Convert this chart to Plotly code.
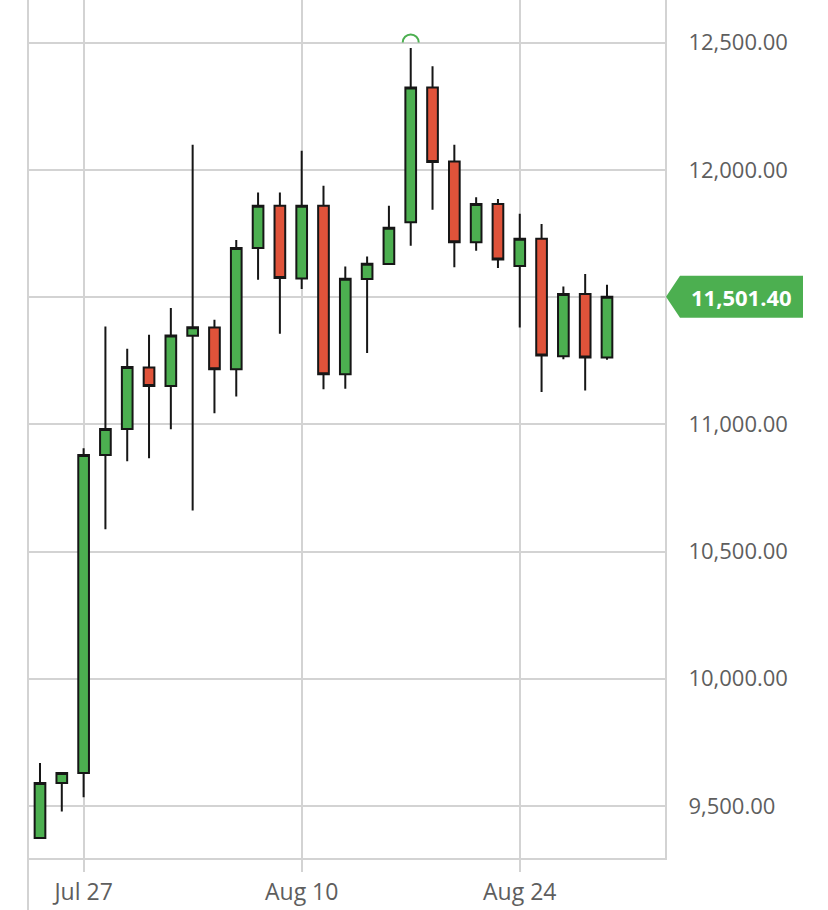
import plotly.graph_objects as go

dates = ["2020-07-23", "2020-07-24", "2020-07-27", "2020-07-28", "2020-07-29", "2020-07-30",
         "2020-07-31", "2020-08-03", "2020-08-04", "2020-08-05", "2020-08-06", "2020-08-07",
         "2020-08-10", "2020-08-11", "2020-08-12", "2020-08-13", "2020-08-14", "2020-08-17",
         "2020-08-18", "2020-08-19", "2020-08-20", "2020-08-21", "2020-08-24", "2020-08-25",
         "2020-08-26", "2020-08-27", "2020-08-28"]
opens = [9374, 9590, 9630, 10880, 10982, 11223, 11151, 11348, 11381, 11217, 11693, 11859,
         11573, 11859, 11197, 11571, 11630, 11794, 12324, 12033, 11716, 11866, 11622, 11729,
         11268, 11512, 11263]
highs = [9669, 9634, 10906, 11385, 11297, 11352, 11457, 12099, 11411, 11725, 11911, 11911,
         12075, 11938, 11620, 11660, 11859, 12479, 12407, 12099, 11893, 11886, 11828, 11787,
         11542, 11591, 11549]
lows = [9370, 9478, 9534, 10588, 10855, 10867, 10981, 10661, 11044, 11109, 11568, 11356,
        11532, 11138, 11140, 11280, 11628, 11702, 11843, 11617, 11682, 11614, 11381, 11127,
        11256, 11133, 11254]
closes = [9590, 9630, 10880, 10982, 11225, 11151, 11349, 11382, 11217, 11693, 11859, 11575,
          11859, 11197, 11572, 11631, 11773, 12324, 12031, 11716, 11866, 11648, 11729, 11271,
          11512, 11263, 11501.40]

x_tickvals = ["2020-07-27", "2020-08-10", "2020-08-24"]
x_ticktext = ["Jul 27", "Aug 10", "Aug 24"]
y_tickvals = [9500, 10000, 10500, 11000, 11500, 12000, 12500]

GREEN = "#4CAF50"
RED = "#E0533A"
GRID = "#D3D3D3"
LABEL = "#5E5E5E"

fig = go.Figure()
fig.add_trace(go.Candlestick(
    x=dates, open=opens, high=highs, low=lows, close=closes,
    increasing=dict(fillcolor=GREEN, line=dict(color="#161616", width=2)),
    decreasing=dict(fillcolor=RED, line=dict(color="#161616", width=2)),
    showlegend=False, hoverinfo="skip",
))

# max-high marker (small arc above the highest wick)
imax = max(range(len(highs)), key=lambda i: highs[i])
r = 8
k = 0.5523 * r
cy = 5.6
arc = (f"M {-r},{cy} C {-r},{cy + k} {-k},{cy + r} 0,{cy + r} "
       f"C {k},{cy + r} {r},{cy + k} {r},{cy}")
fig.add_shape(type="path", xref="x", yref="y", xsizemode="pixel", ysizemode="pixel",
              xanchor=dates[imax], yanchor=highs[imax], path=arc,
              line=dict(color=GREEN, width=2), layer="above")

# left border extending below the plot
fig.add_shape(type="line", xref="paper", yref="paper", x0=0, x1=0, y0=-0.08, y1=1,
              line=dict(color=GRID, width=2), layer="below")

# last price tag
last = closes[-1]
tag = "M 1,0 L 15,21 L 138,21 L 138,-21 L 15,-21 Z"
fig.add_shape(type="path", xref="paper", yref="y", xsizemode="pixel", ysizemode="pixel",
              xanchor=1, yanchor=last, path=tag, fillcolor=GREEN,
              line=dict(color=GREEN, width=0), layer="above")
fig.add_annotation(xref="paper", yref="y", x=1, y=last, xshift=76, xanchor="center",
                   yanchor="middle", showarrow=False, text=f"<b>{last:,.2f}</b>",
                   font=dict(family="Open Sans", size=22, color="white"))

fig.update_layout(
    width=828, height=910,
    margin=dict(l=28, r=163, t=0, b=52),
    paper_bgcolor="white", plot_bgcolor="white",
    font=dict(family="Open Sans", color=LABEL),
    xaxis=dict(
        type="category", range=[-0.55, 28.66], rangeslider=dict(visible=False),
        tickmode="array", tickvals=x_tickvals, ticktext=x_ticktext,
        showgrid=True, gridcolor=GRID, gridwidth=2,
        showline=True, linecolor=GRID, linewidth=2,
        ticks="outside", ticklen=12, tickwidth=2, tickcolor=GRID,
        tickfont=dict(family="Open Sans", size=23, color=LABEL),
        zeroline=False,
    ),
    yaxis=dict(
        side="right", range=[9295.6, 12667.8],
        tickmode="array", tickvals=y_tickvals, tickformat=",.2f",
        showgrid=True, gridcolor=GRID, gridwidth=2,
        showline=True, linecolor=GRID, linewidth=2,
        ticks="", ticklabelstandoff=17,
        tickfont=dict(family="Open Sans", size=22, color=LABEL),
        zeroline=False,
    ),
)

fig.write_html("out.html", config={"displayModeBar": False},
               post_script="document.body.style.margin='0';")
